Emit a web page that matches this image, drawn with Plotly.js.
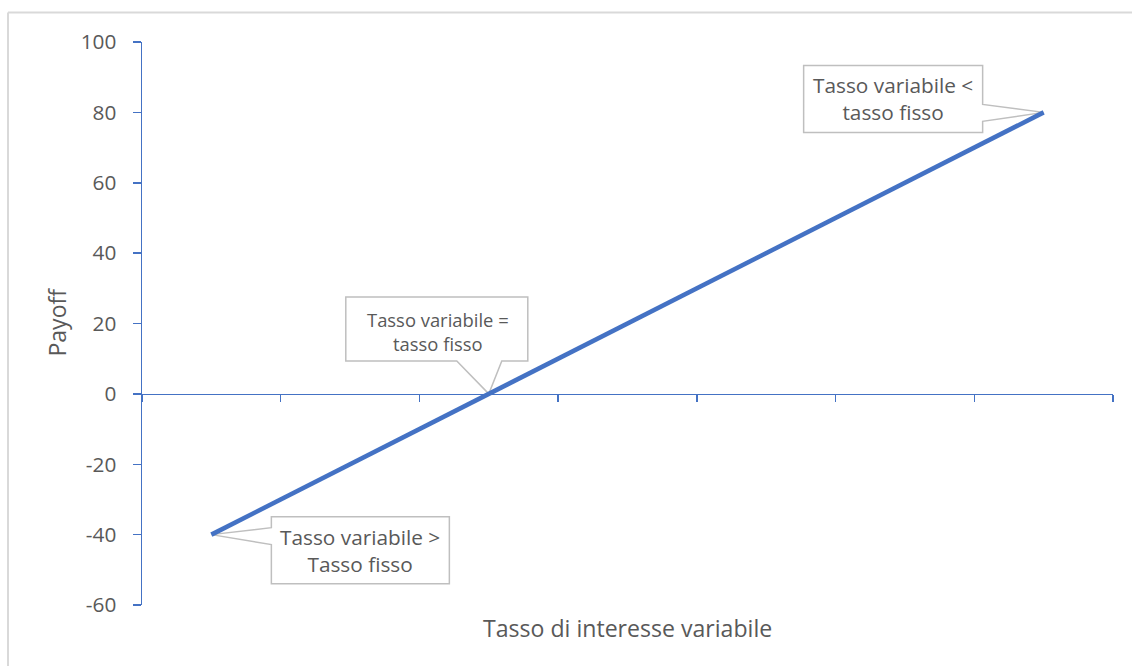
<!DOCTYPE html>
<html>
<head>
<meta charset="utf-8">
<script src="https://cdn.plot.ly/plotly-3.0.1.min.js"></script>
<style>html,body{margin:0;padding:0;background:#fff;}#chart{width:1132px;height:666px;}</style>
</head>
<body>
<div id="chart"></div>
<script>
// Data
const rateLevels = [1, 2, 3, 4, 5, 6, 7];
const payoff = [-40, -20, 0, 20, 40, 60, 80];
const yTicks = [-60, -40, -20, 0, 20, 40, 60, 80, 100];
const xTickEdges = [0.5, 1.5, 2.5, 3.5, 4.5, 5.5, 6.5, 7.5];
const xTitle = "Tasso di interesse variabile";
const yTitle = "Payoff";
const calloutIdx = [0, 2, 6];
const calloutText = ["Tasso variabile ><br>Tasso fisso", "Tasso variabile =<br>tasso fisso", "Tasso variabile <<br>tasso fisso"];

const blue = "#4472C4";
const grey = "#595959";
const font = "Open Sans, sans-serif";

// callout geometry (pixels relative to the pointed data point, y up)
const calloutPaths = [
  "M0,0 L60,7 L60,18 L238,18 L238,-49 L60,-49 L60,-10 Z",
  "M0,0 L-32,33 L-143,33 L-143,97 L39,97 L39,33 L13,33 Z",
  "M0,0 L-61,8 L-61,47 L-240,47 L-240,-20 L-61,-20 L-61,-9 Z"
];
const calloutShift = [[149, -15.5], [-51, 62.5], [-150.5, 13.5]];
const calloutSize = [20.8, 18.4, 20.8];

const shapes = [
  {type: "line", xref: "paper", yref: "paper", x0: -0.138, x1: 1.05, y0: 1.0524, y1: 1.0524, line: {color: "#D9D9D9", width: 2}},
  {type: "line", xref: "paper", yref: "paper", x0: -0.138, x1: -0.138, y0: 1.0524, y1: -0.15, line: {color: "#D9D9D9", width: 2}}
];
const annotations = [
  {xref: "paper", yref: "paper", x: 0.5, y: 0, yshift: -23, showarrow: false, text: xTitle, font: {family: font, size: 23.1, color: grey}, xanchor: "center", yanchor: "middle"},
  {xref: "paper", yref: "paper", x: 0, y: 0.5, xshift: -86, yshift: 1, showarrow: false, text: yTitle, textangle: -90, font: {family: font, size: 23, color: grey}, xanchor: "center", yanchor: "middle"}
];
calloutIdx.forEach((idx, k) => {
  shapes.push({
    type: "path", layer: "below",
    xref: "x", yref: "y",
    xsizemode: "pixel", ysizemode: "pixel",
    xanchor: rateLevels[idx], yanchor: payoff[idx],
    path: calloutPaths[k],
    fillcolor: "#FFFFFF",
    line: {color: "#BFBFBF", width: 1.5}
  });
  annotations.push({
    x: rateLevels[idx], y: payoff[idx], xref: "x", yref: "y",
    showarrow: false, text: calloutText[k],
    xshift: calloutShift[k][0], yshift: calloutShift[k][1],
    xanchor: "center", yanchor: "middle", align: "center",
    font: {family: font, size: calloutSize[k], color: grey}
  });
});

const trace = {
  x: rateLevels, y: payoff, type: "scatter", mode: "lines",
  line: {color: blue, width: 4.5}, hoverinfo: "skip"
};

const layout = {
  width: 1132, height: 666,
  margin: {l: 142, r: 19, t: 42, b: 61},
  paper_bgcolor: "#FFFFFF", plot_bgcolor: "#FFFFFF",
  showlegend: false,
  xaxis: {
    range: [0.5, 7.5], tickvals: xTickEdges, showticklabels: false,
    ticks: "outside", ticklen: 7, tickwidth: 1.5, tickcolor: blue,
    showline: true, linecolor: blue, linewidth: 1.5,
    showgrid: false, zeroline: false,
    anchor: "free", position: 0.375
  },
  yaxis: {
    range: [-60, 100], tickvals: yTicks, ticktext: yTicks.map(String),
    ticks: "outside", ticklen: 8, tickwidth: 1.5, tickcolor: blue,
    showline: true, linecolor: blue, linewidth: 1.5,
    showgrid: false, zeroline: false,
    ticklabelstandoff: 12,
    tickfont: {family: font, size: 20.8, color: grey}
  },
  shapes: shapes,
  annotations: annotations
};

Plotly.newPlot("chart", [trace], layout, {staticPlot: true, displayModeBar: false});
</script>
</body>
</html>
